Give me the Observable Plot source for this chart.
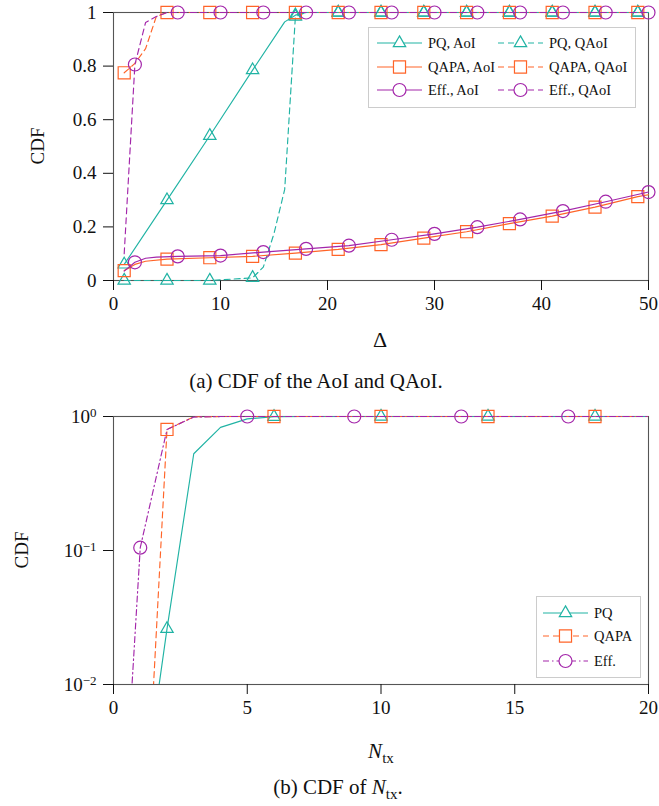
<!DOCTYPE html>
<html>
<head>
<meta charset="utf-8">
<script src="https://cdn.jsdelivr.net/npm/d3@7"></script>
<script src="https://cdn.jsdelivr.net/npm/@observablehq/plot@0.6"></script>
<style>
  html, body { margin: 0; padding: 0; background: #fff; }
  #page { position: relative; width: 659px; height: 806px; font-family: "Liberation Serif", "Times New Roman", serif; color: #111; }
  #page svg, #page svg text { font-family: "Liberation Serif", "Times New Roman", serif !important; font-variant-numeric: normal !important; }
  .abs { position: absolute; }
  .lab { position: absolute; white-space: nowrap; transform: translate(-50%, -50%); }
</style>
</head>
<body>
<div id="page"></div>
<script>
// ---------- colours ----------
const cPQ = "#20b3a4", cQAPA = "#ff6428", cEff = "#a326aa";

// ---------- (a) CDF of AoI / QAoI ----------
const xTicksA = [0, 10, 20, 30, 40, 50];
const yTicksA = [0, 0.2, 0.4, 0.6, 0.8, 1];

const pqAoI_d   = [1, 5, 9, 13, 16, 17, 18, 21, 25, 29, 33, 37, 41, 45, 49, 50];
const pqAoI_c   = [0.06, 0.30, 0.54, 0.785, 0.965, 0.99, 1, 1, 1, 1, 1, 1, 1, 1, 1, 1];
const pqQAoI_d  = [1, 5, 9, 13, 14, 15, 16, 17, 18, 21, 25, 29, 33, 37, 41, 45, 49, 50];
const pqQAoI_c  = [0, 0, 0, 0.01, 0.05, 0.175, 0.34, 0.985, 1, 1, 1, 1, 1, 1, 1, 1, 1, 1];
const qapaAoI_d = [1, 2, 3, 5, 9, 13, 17, 21, 25, 29, 33, 37, 41, 45, 49, 50];
const qapaAoI_c = [0.037, 0.06, 0.072, 0.08, 0.085, 0.09, 0.102, 0.116, 0.134, 0.158, 0.182, 0.212, 0.24, 0.274, 0.313, 0.32];
const qapaQAoI_d = [1, 2, 3, 4, 5, 9, 13, 17, 21, 25, 29, 33, 37, 41, 45, 49, 50];
const qapaQAoI_c = [0.775, 0.81, 0.865, 0.985, 1, 1, 1, 1, 1, 1, 1, 1, 1, 1, 1, 1, 1];
const effAoI_d  = [1, 2, 3, 4, 6, 10, 14, 18, 22, 26, 30, 34, 38, 42, 46, 50];
const effAoI_c  = [0.035, 0.068, 0.083, 0.087, 0.09, 0.093, 0.106, 0.118, 0.13, 0.152, 0.174, 0.199, 0.228, 0.259, 0.294, 0.33];
const effQAoI_d = [1, 2, 3, 4, 5, 6, 10, 14, 18, 22, 26, 30, 34, 38, 42, 46, 50];
const effQAoI_c = [0.1, 0.806, 0.963, 0.985, 1, 1, 1, 1, 1, 1, 1, 1, 1, 1, 1, 1, 1];

// ---------- (b) CDF of N_tx ----------
const xTicksB = [0, 5, 10, 15, 20];
const yTicksB = [0.01, 0.1, 1];
const yTickLabB = ["10^−2", "10^−1", "10^0"];

const pq_n   = [1, 2, 3, 4, 5, 6, 7, 10, 14, 18, 20];
const pq_c   = [0.001, 0.026, 0.527, 0.83, 0.96, 0.995, 1, 1, 1, 1, 1];
const qapa_n = [1, 2, 3, 4, 6, 10, 14, 18, 20];
const qapa_c = [0.00013, 0.8, 0.995, 1, 1, 1, 1, 1, 1];
const eff_n  = [0, 1, 2, 3, 4, 5, 9, 13, 17, 20];
const eff_c  = [0.00005, 0.105, 0.8, 0.99, 1, 1, 1, 1, 1, 1];

const zip = (xs, ys) => xs.map((x, i) => ({x, y: ys[i]}));

const page = document.getElementById("page");
const baseStyle = {fontFamily: "'Liberation Serif', 'Times New Roman', serif", fontSize: "19px", background: "transparent", color: "#111", overflow: "visible"};

function series(data, color, dash, symbol, r, markTest, clip) {
  return [
    Plot.line(data, {x: "x", y: "y", stroke: color, strokeWidth: 1.15, strokeDasharray: dash, clip}),
    Plot.dot(data.filter(d => markTest(d.x)), {x: "x", y: "y", symbol, r, stroke: color, fill: "none", strokeWidth: 1.2})
  ];
}

const m1 = x => (x - 1) % 4 === 0;
const m2 = x => (x - 2) % 4 === 0;
const dash = "6,4";
const dashdot = "6,3,1.5,3";

const chartA = Plot.plot({
  width: 659, height: 350,
  marginLeft: 113, marginRight: 11, marginTop: 12, marginBottom: 70,
  style: baseStyle,
  x: {domain: [0, 50]},
  y: {domain: [0, 1]},
  marks: [
    Plot.frame({stroke: "#555", strokeWidth: 1.1}),
    Plot.axisX({ticks: xTicksA, tickSize: 10, tickPadding: 6, label: null, tickFormat: d => String(d)}),
    Plot.axisY({ticks: yTicksA, tickSize: 10, tickPadding: 7, label: null, tickFormat: d => String(+d.toFixed(1))}),
    ...series(zip(pqAoI_d, pqAoI_c), cPQ, null, "triangle", 4.6, m1),
    ...series(zip(pqQAoI_d, pqQAoI_c), cPQ, dash, "triangle", 4.6, m1),
    ...series(zip(qapaAoI_d, qapaAoI_c), cQAPA, null, "square", 6.8, m1),
    ...series(zip(qapaQAoI_d, qapaQAoI_c), cQAPA, dash, "square", 6.8, m1),
    ...series(zip(effAoI_d, effAoI_c), cEff, null, "circle", 6.5, m2),
    ...series(zip(effQAoI_d, effQAoI_c), cEff, dash, "circle", 6.5, m2)
  ]
});
chartA.classList.add("abs");
chartA.style.left = "0px"; chartA.style.top = "0px";
page.appendChild(chartA);

const chartB = Plot.plot({
  width: 659, height: 360,
  marginLeft: 113, marginRight: 11, marginTop: 16, marginBottom: 76,
  style: baseStyle,
  x: {domain: [0, 20]},
  y: {type: "log", domain: [0.01, 1]},
  marks: [
    Plot.frame({stroke: "#555", strokeWidth: 1.1}),
    Plot.axisX({ticks: xTicksB, tickSize: 10, tickPadding: 6, label: null, tickFormat: d => String(d)}),
    Plot.axisY({ticks: yTicksB, tickSize: 10, tickPadding: 7, label: null, tickFormat: d => yTickLabB[yTicksB.indexOf(d)]}),
    ...series(zip(pq_n, pq_c), cPQ, null, "triangle", 4.6, x => (x - 2) % 4 === 0, true),
    ...series(zip(qapa_n, qapa_c), cQAPA, "6,4", "square", 6.8, x => (x - 2) % 4 === 0, true),
    ...series(zip(eff_n, eff_c), cEff, dashdot, "circle", 6.5, x => (x - 1) % 4 === 0, true)
  ]
});
chartB.classList.add("abs");
chartB.style.left = "0px"; chartB.style.top = "400px";
page.appendChild(chartB);

// superscript tick labels for the log axis
chartB.querySelectorAll("text").forEach(t => {
  const s = t.textContent;
  if (s.startsWith("10^")) {
    const exp = s.slice(3);
    t.textContent = "";
    const base = document.createElementNS("http://www.w3.org/2000/svg", "tspan");
    base.textContent = "10";
    const sup = document.createElementNS("http://www.w3.org/2000/svg", "tspan");
    sup.textContent = exp;
    sup.setAttribute("dy", "-0.45em");
    sup.setAttribute("font-size", "13px");
    t.appendChild(base); t.appendChild(sup);
  }
});

// ---------- legends ----------
function legend(left, top, w, h, items) {
  const svg = d3.create("svg").attr("width", w).attr("height", h)
    .style("position", "absolute").style("left", left + "px").style("top", top + "px")
    .style("font-size", "14.5px");
  svg.append("rect").attr("x", 0.5).attr("y", 0.5).attr("width", w - 1).attr("height", h - 1)
    .attr("fill", "#fff").attr("stroke", "#ccc").attr("stroke-width", 1);
  for (const it of items) {
    svg.append("line").attr("x1", it.x).attr("x2", it.x + 45).attr("y1", it.y).attr("y2", it.y)
      .attr("stroke", it.color).attr("stroke-width", 1.15).attr("stroke-dasharray", it.dash || null);
    const sym = {triangle: d3.symbolTriangle, square: d3.symbolSquare, circle: d3.symbolCircle}[it.symbol];
    svg.append("path").attr("d", d3.symbol(sym, Math.PI * it.r * it.r)())
      .attr("transform", `translate(${it.x + 22.5},${it.y})`)
      .attr("fill", "#fff").attr("stroke", it.color).attr("stroke-width", 1.2);
    svg.append("text").attr("x", it.x + 51).attr("y", it.y).attr("dy", "0.35em").attr("fill", "#111").text(it.label);
  }
  page.appendChild(svg.node());
}

legend(368, 27, 268, 81, [
  {x: 9, y: 16, color: cPQ, symbol: "triangle", r: 4.6, label: "PQ, AoI"},
  {x: 9, y: 40, color: cQAPA, symbol: "square", r: 6.8, label: "QAPA, AoI"},
  {x: 9, y: 63, color: cEff, symbol: "circle", r: 6.5, label: "Eff., AoI"},
  {x: 130, y: 16, color: cPQ, symbol: "triangle", r: 4.6, label: "PQ, QAoI", dash: dash},
  {x: 130, y: 40, color: cQAPA, symbol: "square", r: 6.8, label: "QAPA, QAoI", dash: dash},
  {x: 130, y: 63, color: cEff, symbol: "circle", r: 6.5, label: "Eff., QAoI", dash: dash}
]);

legend(536, 596, 105, 82, [
  {x: 7, y: 17, color: cPQ, symbol: "triangle", r: 4.6, label: "PQ"},
  {x: 7, y: 40, color: cQAPA, symbol: "square", r: 6.8, label: "QAPA", dash: dash},
  {x: 7, y: 65, color: cEff, symbol: "circle", r: 6.5, label: "Eff.", dash: dashdot}
]);

// ---------- axis labels and captions ----------
function label(html, x, y, size, extra) {
  const d = document.createElement("div");
  d.className = "lab";
  d.style.left = x + "px"; d.style.top = y + "px"; d.style.fontSize = size + "px";
  if (extra) Object.assign(d.style, extra);
  d.innerHTML = html;
  page.appendChild(d);
}
const sub = "<span style='font-size:0.72em;position:relative;top:0.3em'>tx</span>";
label("Δ", 380, 340, 22);
label("CDF", 38, 146, 19, {transform: "translate(-50%,-50%) rotate(-90deg)"});
label("(a) CDF of the AoI and QAoI.", 316, 381, 21);
label("CDF", 22, 550, 19, {transform: "translate(-50%,-50%) rotate(-90deg)"});
label("<i>N</i>" + sub, 381, 751, 21);
label("(b) CDF of <i>N</i>" + sub + ".", 338, 787, 21);
</script>
</body>
</html>
